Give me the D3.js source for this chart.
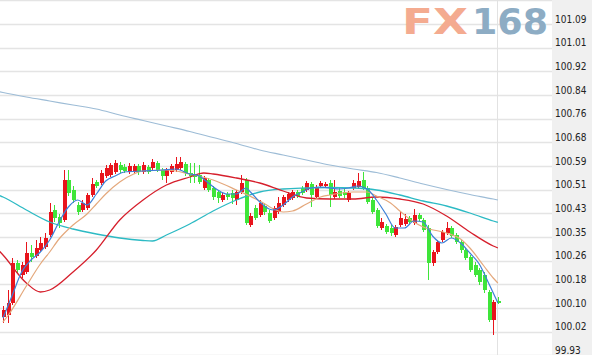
<!DOCTYPE html>
<html><head><meta charset="utf-8">
<script src="https://cdn.jsdelivr.net/npm/d3@7"></script>
<style>html,body{margin:0;padding:0;background:#fff;}svg{display:block;}</style>
</head><body>
<svg id="chart" width="592" height="355"></svg>
<script>
// ---------- data ----------
const tickLabels = ["101.09","101.01","100.92","100.84","100.76","100.68","100.59","100.51","100.43","100.35","100.26","100.18","100.10","100.02","99.93"];
const priceTop = 101.09, priceBottom = 99.93;

const open = [100.0645,100.0715,100.1135,100.2535,100.2115,100.222,100.2885,100.278,100.299,100.3095,
 100.3515,100.439,100.4145,100.404,100.544,100.509,100.4565,100.439,100.446,100.4915,
 100.537,100.5335,100.558,100.5615,100.572,100.5965,100.5895,100.572,100.572,100.593,
 100.572,100.5895,100.586,100.6035,100.579,100.558,100.572,100.579,100.586,100.600,
 100.5685,100.565,100.5615,100.516,100.544,100.516,100.502,100.474,100.495,100.4985,
 100.474,100.502,100.544,100.3865,100.446,100.4215,100.453,100.4285,100.411,100.432,
 100.4565,100.474,100.481,100.502,100.516,100.509,100.530,100.4845,100.523,100.523,
 100.5335,100.4845,100.5055,100.502,100.474,100.516,100.5195,100.544,100.516,100.474,
 100.439,100.376,100.383,100.376,100.3515,100.3865,100.390,100.411,100.3935,100.4215,
 100.404,100.376,100.2535,100.292,100.334,100.3585,100.376,100.3515,100.327,100.299,
 100.2745,100.2465,100.229,100.2115,100.152,100.054,100.1205];
const close = [100.089,100.1135,100.2535,100.229,100.2465,100.2885,100.2745,100.306,100.3235,100.341,
 100.432,100.411,100.3935,100.544,100.4985,100.474,100.432,100.4635,100.4915,100.530,
 100.523,100.5685,100.586,100.5965,100.6035,100.579,100.5755,100.593,100.593,100.572,
 100.5965,100.572,100.607,100.579,100.558,100.579,100.593,100.600,100.607,100.5685,
 100.558,100.5545,100.537,100.551,100.509,100.4845,100.481,100.4915,100.4845,100.481,
 100.502,100.5335,100.3935,100.418,100.411,100.4635,100.432,100.4005,100.446,100.4635,
 100.4845,100.495,100.502,100.488,100.4985,100.5335,100.4915,100.5195,100.5335,100.530,
 100.4915,100.502,100.488,100.4915,100.4985,100.5335,100.5405,100.516,100.467,100.432,
 100.383,100.397,100.362,100.3585,100.3795,100.411,100.4075,100.397,100.4215,100.4075,
 100.369,100.2535,100.292,100.327,100.362,100.376,100.348,100.327,100.299,100.271,
 100.229,100.2115,100.187,100.159,100.054,100.117,100.1135];
const high = [100.103,100.159,100.271,100.264,100.257,100.327,100.3165,100.334,100.3445,100.3585,
 100.4635,100.4565,100.425,100.579,100.579,100.523,100.467,100.474,100.4985,100.551,
 100.544,100.579,100.5965,100.6035,100.614,100.607,100.600,100.6035,100.600,100.600,
 100.607,100.5965,100.6175,100.6105,100.586,100.586,100.600,100.6245,100.6245,100.607,
 100.6035,100.6035,100.5965,100.558,100.551,100.523,100.509,100.4985,100.502,100.509,
 100.509,100.5615,100.551,100.4285,100.4565,100.474,100.4635,100.439,100.453,100.4845,
 100.4915,100.502,100.509,100.509,100.523,100.5405,100.537,100.5265,100.5405,100.537,
 100.544,100.544,100.516,100.5125,100.5055,100.544,100.5685,100.572,100.523,100.481,
 100.446,100.411,100.390,100.3865,100.3865,100.432,100.425,100.418,100.4425,100.4285,
 100.411,100.3865,100.299,100.334,100.369,100.397,100.383,100.3585,100.334,100.306,
 100.2815,100.257,100.236,100.222,100.159,100.124,100.1345];
const low = [100.0435,100.0435,100.1065,100.2185,100.201,100.215,100.257,100.271,100.292,100.3025,
 100.3445,100.397,100.376,100.397,100.488,100.4635,100.4215,100.432,100.439,100.4845,
 100.516,100.5265,100.551,100.5545,100.565,100.5685,100.5685,100.565,100.5685,100.5615,
 100.565,100.565,100.579,100.572,100.544,100.5335,100.565,100.572,100.579,100.558,
 100.5335,100.5335,100.530,100.509,100.502,100.474,100.4635,100.467,100.474,100.460,
 100.4565,100.495,100.3865,100.3795,100.404,100.4145,100.4215,100.3935,100.404,100.425,
 100.4495,100.467,100.474,100.481,100.4915,100.502,100.4495,100.4775,100.516,100.516,
 100.4495,100.4775,100.481,100.481,100.467,100.509,100.5125,100.509,100.460,100.425,
 100.376,100.369,100.355,100.348,100.3445,100.3795,100.383,100.390,100.3865,100.4005,
 100.362,100.194,100.243,100.285,100.327,100.3515,100.341,100.320,100.2885,100.264,
 100.222,100.2045,100.1765,100.1485,100.047,100.0015,100.110];

// moving averages (candle index, value)
const maLongIdx = [-1,0,5,10,15,20,25,30,35,40,45,50,55,60,65,70,75,80,85,90,95,100,105,106];
const maLongVal = [100.8538,100.8503,100.8345,100.8205,100.8065,100.7925,100.7715,100.7523,100.733,100.7138,100.6928,100.6718,100.649,100.6315,100.614,100.5965,100.5825,100.5703,100.551,100.530,100.5108,100.4933,100.4775,100.474];

const maCyanIdx = [-1,0,5,10,15,20,25,30,32,35,40,45,50,55,60,65,70,75,80,85,90,95,100,105,106];
const maCyanVal = [100.4915,100.4845,100.439,100.397,100.3725,100.355,100.341,100.3323,100.3305,100.3515,100.390,100.4355,100.474,100.502,100.5125,100.516,100.5178,100.516,100.509,100.4915,100.4705,100.453,100.4285,100.4005,100.3953];

const maRedIdx = [-1,0,5,8,10,15,20,25,30,35,40,43,45,50,55,60,65,70,75,80,85,90,95,100,105,106];
const maRedVal = [100.299,100.2815,100.1835,100.152,100.159,100.222,100.299,100.404,100.474,100.5265,100.5545,100.5685,100.565,100.551,100.5335,100.5055,100.481,100.4775,100.4775,100.4845,100.4775,100.460,100.418,100.362,100.313,100.306];

const maTanIdx = [0,1,5,8,10,12,15,18,20,22,25,28,30,35,40,45,50,55,58,60,62,65,68,70,75,78,80,83,85,88,90,95,98,100,103,105,106];
const maTanVal = [100.047,100.068,100.173,100.250,100.292,100.3375,100.3865,100.425,100.460,100.495,100.537,100.565,100.5755,100.579,100.565,100.544,100.509,100.4705,100.4425,100.432,100.4355,100.460,100.4845,100.4915,100.502,100.502,100.488,100.4635,100.4355,100.397,100.3795,100.3585,100.3375,100.306,100.243,100.201,100.1835];

const maBlueIdx = [0,2,4,6,8,10,12,14,16,18,20,22,24,26,30,34,37,40,42,44,46,48,50,51,52,53,55,57,58,60,62,64,66,68,70,72,74,76,78,80,82,84,86,88,90,92,94,96,98,100,102,104,106];
const maBlueVal = [100.061,100.1415,100.222,100.264,100.292,100.334,100.397,100.4495,100.474,100.4565,100.495,100.5405,100.558,100.572,100.5755,100.579,100.5825,100.565,100.558,100.5335,100.509,100.495,100.495,100.5055,100.516,100.502,100.467,100.4425,100.439,100.4565,100.4845,100.502,100.516,100.5195,100.516,100.5125,100.516,100.523,100.5125,100.474,100.425,100.376,100.376,100.4005,100.397,100.348,100.3235,100.341,100.3235,100.2885,100.250,100.1835,100.1135];

// ---------- drawing ----------
const W = 592, H = 355, plotRight = 552;
const svg = d3.select("#chart");

const x = d3.scaleLinear().domain([0, open.length - 1]).range([3, 497.9]);
const y = d3.scaleLinear().domain([priceBottom, priceTop]).range([355.43, 24]);

// axis panel
svg.append("rect").attr("x", plotRight).attr("y", 0).attr("width", W - plotRight).attr("height", H).attr("fill", "#f0f0f0");

// gridlines
const tickVals = d3.range(tickLabels.length).map(k => priceTop - k * (priceTop - priceBottom) / (tickLabels.length - 1));
const gridVals = [priceTop + (priceTop - priceBottom) / (tickLabels.length - 1)].concat(tickVals);
svg.append("g").selectAll("line").data(gridVals).join("line")
  .attr("x1", 0).attr("x2", plotRight)
  .attr("y1", d => Math.round(y(d)) + 0.5).attr("y2", d => Math.round(y(d)) + 0.5)
  .attr("stroke", "#e4e4e4").attr("stroke-width", 1.5);

// vertical cursor line
svg.append("line").attr("x1", Math.round(x(open.length - 1)) - 0.5).attr("x2", Math.round(x(open.length - 1)) - 0.5)
  .attr("y1", 0).attr("y2", H).attr("stroke", "#e2e2e2").attr("stroke-width", 1);

// logo
const logo = svg.append("g").attr("font-family", "'DejaVu Sans', Verdana, sans-serif").attr("font-weight", "bold").attr("font-size", 36);
logo.append("text").attr("x", 402).attr("y", 33.5).attr("fill", "#f4ab90").attr("textLength", 66).attr("lengthAdjust", "spacingAndGlyphs").text("FX");
logo.append("text").attr("x", 472).attr("y", 33.5).attr("fill", "#8dacc4").attr("textLength", 76).attr("lengthAdjust", "spacingAndGlyphs").text("168");

// axis labels (right)
const yAxis = d3.axisRight(y).tickValues(tickVals).tickSize(0).tickPadding(0)
  .tickFormat((d, i) => tickLabels[i]);
const ax = svg.append("g").attr("transform", `translate(${plotRight + 3},0)`).call(yAxis);
ax.select(".domain").remove();
ax.selectAll("text").attr("font-family", "'DejaVu Sans Condensed', 'DejaVu Sans', Tahoma, sans-serif")
  .attr("font-size", 10).attr("fill", "#222").attr("dy", "-0.18em");

// candles
const candles = open.map((o, i) => ({i, o, c: close[i], h: high[i], l: low[i]}));
const up = "#e8141c", down = "#3fe53a";
const cg = svg.append("g");
cg.selectAll("line").data(candles).join("line")
  .attr("x1", d => Math.round(x(d.i)) + 0.5).attr("x2", d => Math.round(x(d.i)) + 0.5)
  .attr("y1", d => y(d.h)).attr("y2", d => y(d.l))
  .attr("stroke", d => d.c >= d.o ? up : down).attr("stroke-width", 1).attr("shape-rendering", "crispEdges");
const bw = 4;
cg.selectAll("rect").data(candles).join("rect")
  .attr("x", d => Math.round(x(d.i)) + 0.5 - bw / 2)
  .attr("width", bw)
  .attr("y", d => y(Math.max(d.o, d.c)))
  .attr("height", d => Math.max(1, Math.abs(y(d.o) - y(d.c))))
  .attr("fill", d => d.c >= d.o ? up : down)
  .attr("shape-rendering", "crispEdges");

// moving averages
function maLine(idx, vals, color, w) {
  const pts = idx.map((k, j) => [x(k), y(vals[j])]);
  svg.append("path").attr("d", d3.line().curve(d3.curveMonotoneX)(pts))
    .attr("fill", "none").attr("stroke", color).attr("stroke-width", w);
}
maLine(maLongIdx, maLongVal, "#9dbcd6", 1.2);
maLine(maCyanIdx, maCyanVal, "#2cbac4", 1.3);
maLine(maRedIdx, maRedVal, "#d61f2c", 1.3);
maLine(maTanIdx, maTanVal, "#e4a87c", 1.2);
maLine(maBlueIdx, maBlueVal, "#3d80d8", 1.2);
</script>
</body></html>
